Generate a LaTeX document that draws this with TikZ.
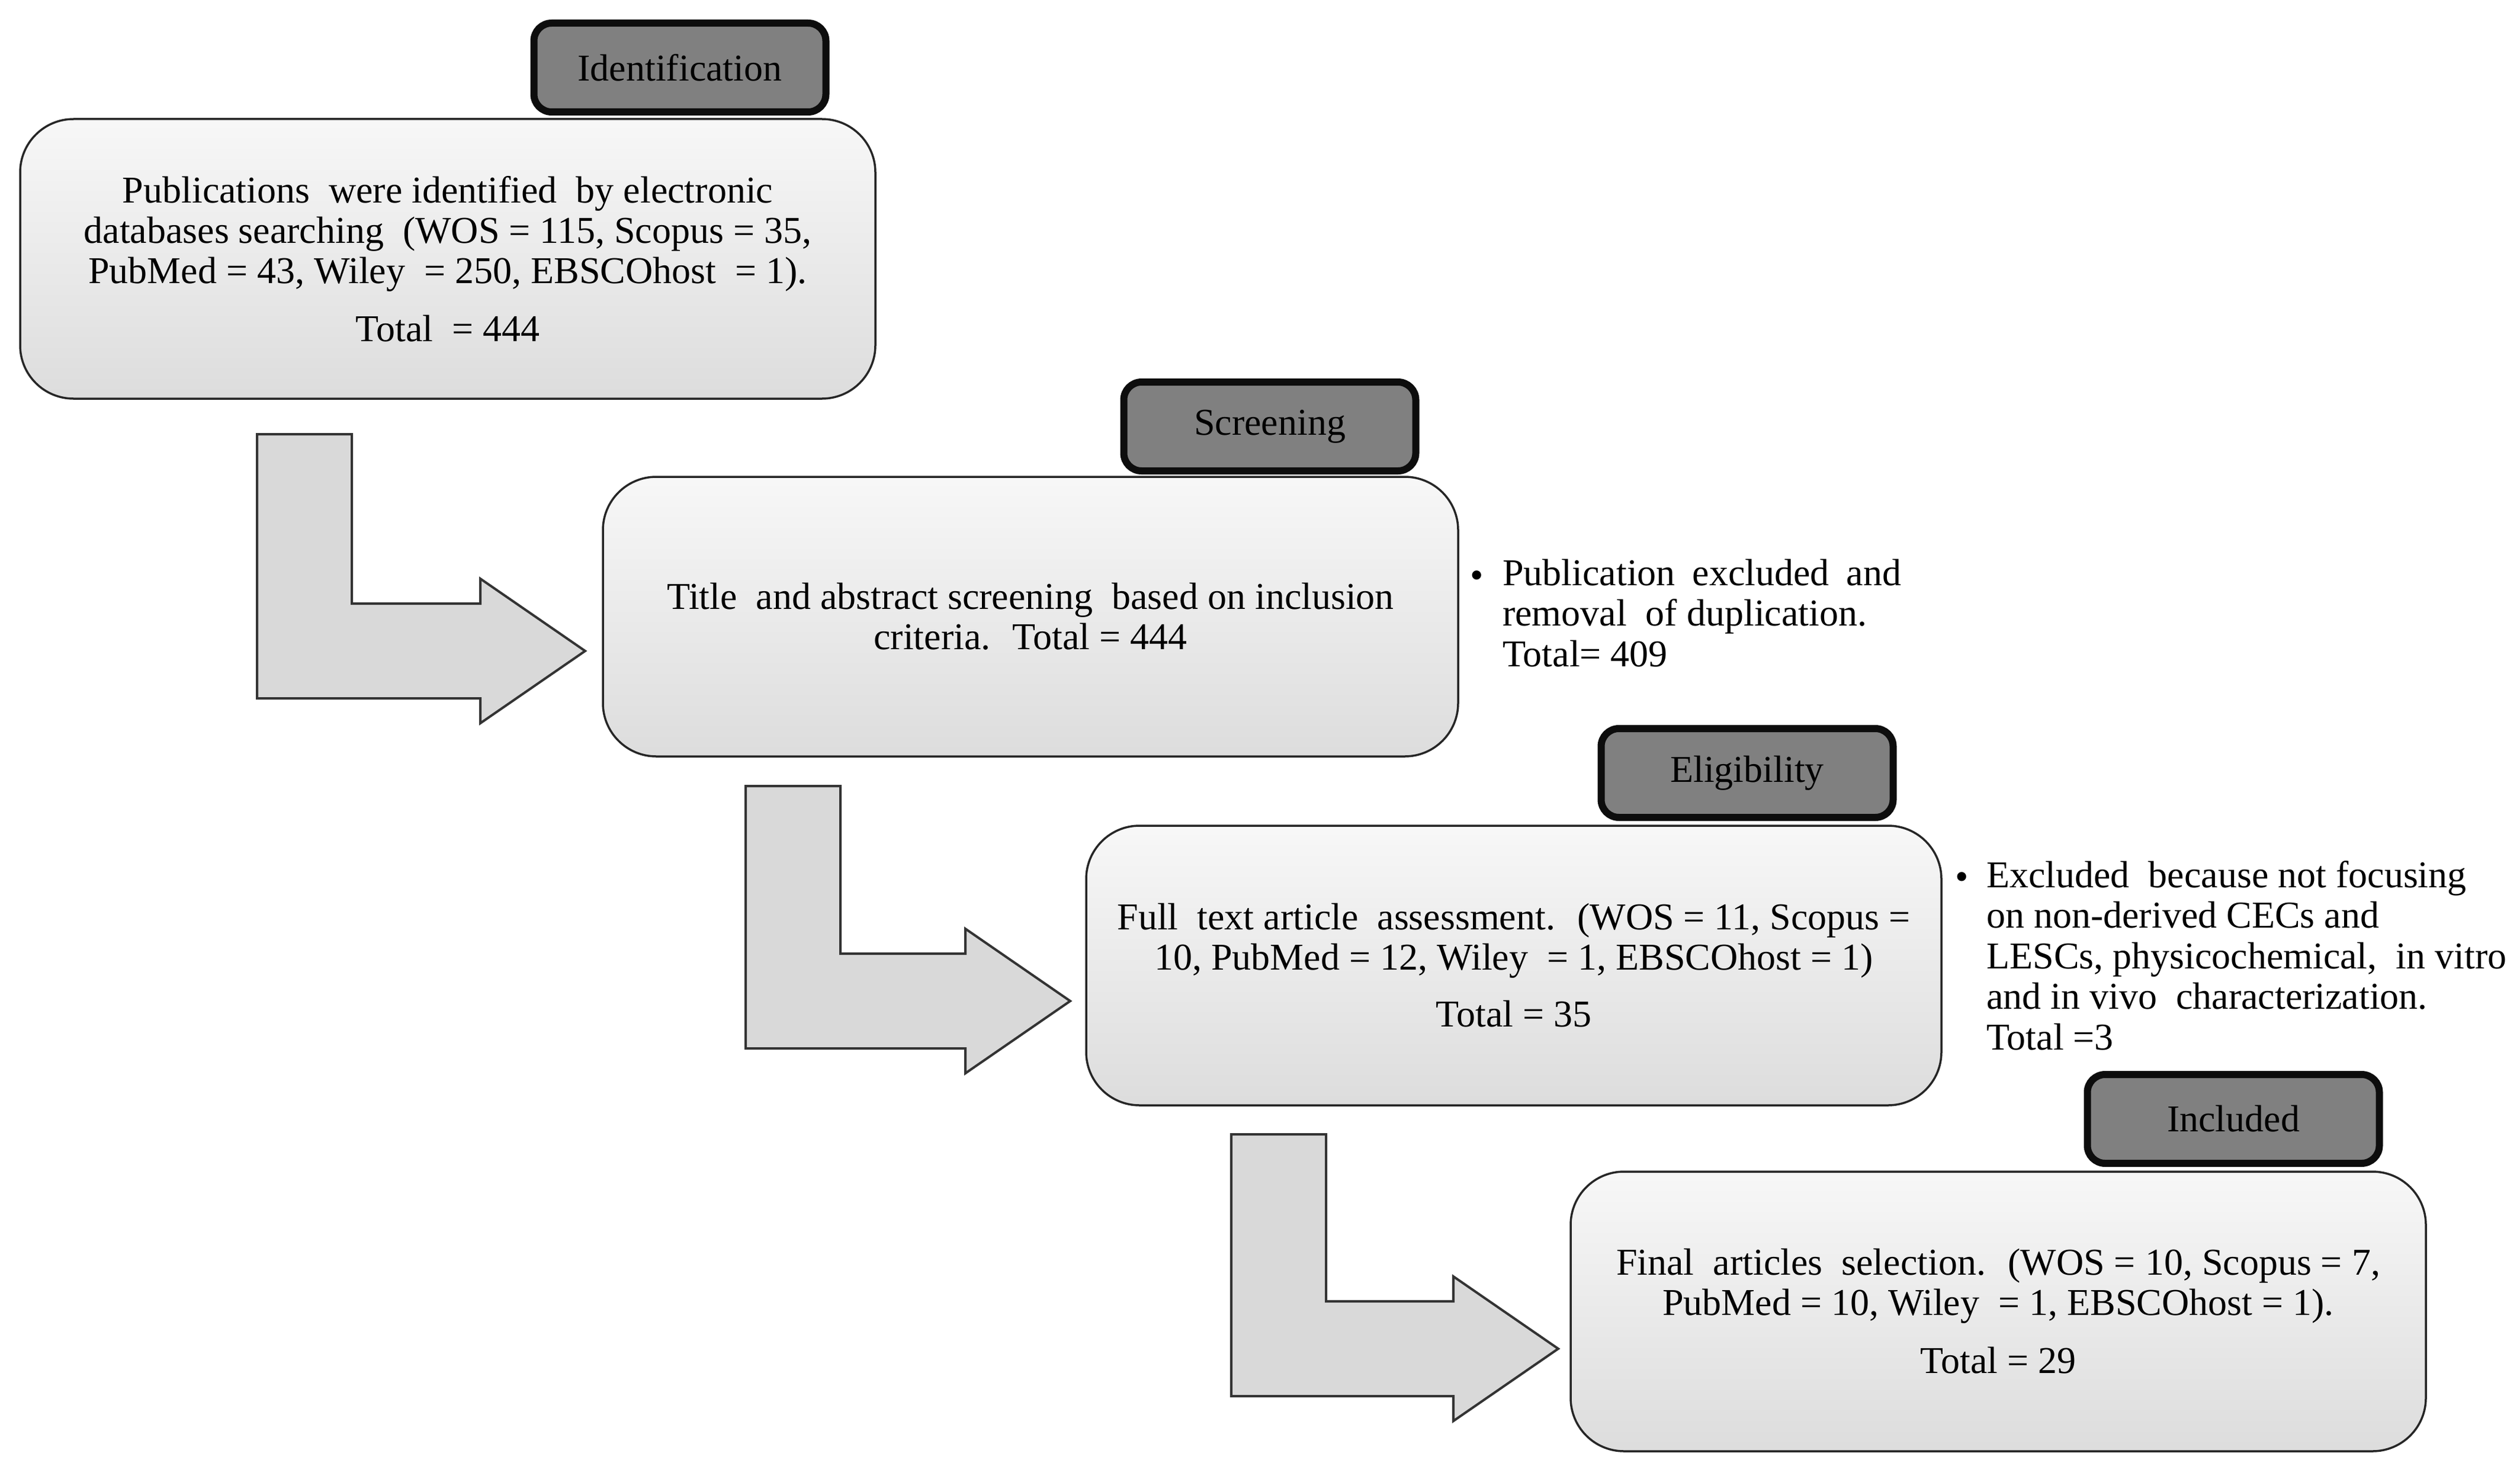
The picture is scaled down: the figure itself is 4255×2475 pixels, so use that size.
\documentclass[tikz,border=0pt]{standalone}
\usepackage{fontspec}
\setmainfont{Liberation Serif}
\usetikzlibrary{calc}
\newcommand\mainfnt{\fontsize{64}{68}\selectfont}
\newcommand\sidefnt{\fontsize{64}{68.5}\selectfont}
\tikzset{
  mainbox/.style={draw=black!85, line width=3.5pt, rounded corners=90pt,
    top color=gray!6, bottom color=gray!27, align=center, inner sep=0pt,
    minimum width=1444pt, minimum height=472pt, font=\mainfnt},
  tagbox/.style={draw=black!95, line width=12pt, rounded corners=30pt,
    fill=gray, inner sep=0pt, minimum width=493pt, minimum height=150pt, font=\mainfnt},
  blockarrow/.style={draw=black!80, line width=4pt, fill=black!15, line join=miter},
  sidetext/.style={align=left, anchor=west, inner sep=0pt, font=\sidefnt},
  bulletnode/.style={inner sep=0pt, font=\mainfnt}
}
\newcommand\bentarrow[4]{%
  \draw[blockarrow] (#1,#2) -- ({#1+160},#2) -- ({#1+160},{#3-80})
    -- ({#4-177},{#3-80}) -- ({#4-177},{#3-122}) -- (#4,#3)
    -- ({#4-177},{#3+122}) -- ({#4-177},{#3+80}) -- (#1,{#3+80}) -- cycle;}
\begin{document}
\begin{tikzpicture}[x=1pt,y=-1pt]
\fill[white] (0,0) rectangle (4255,2475);
\useasboundingbox (0,0) rectangle (4255,2475);

% main boxes
\node[mainbox] (b1) at (756,437) {Publications~ were identified~ by electronic\\databases searching~ (WOS = 115, Scopus = 35,\\PubMed = 43, Wiley~ = 250, EBSCOhost~ = 1).\\[30pt]Total~ = 444};
\node[mainbox] (b2) at (1740,1041) {Title~ and abstract screening~ based on inclusion\\criteria.~ Total = 444};
\node[mainbox] (b3) at (2556,1630) {Full~ text article~ assessment.~ (WOS = 11, Scopus =\\10, PubMed = 12, Wiley~ = 1, EBSCOhost = 1)\\[28pt]Total = 35};
\node[mainbox] (b4) at (3374,2214) {Final~ articles~ selection.~ (WOS = 10, Scopus = 7,\\PubMed = 10, Wiley~ = 1, EBSCOhost = 1).\\[30pt]Total = 29};

% stage tags
\node[tagbox] (t1) at (1148,114) {Identification};
\node[tagbox] (t2) at (2144,720) {Screening};
\node[tagbox] (t3) at (2950,1305) {Eligibility};
\node[tagbox] (t4) at (3771,1889) {Included};

% bent block arrows
\bentarrow{434}{733}{1099}{988}
\bentarrow{1259}{1327}{1690}{1807}
\bentarrow{2079}{1915}{2277}{2631}

% side notes
\node[bulletnode] (u1) at (2494,978) {\textbullet};
\node[sidetext] (s1) at (2537,1035) {\makebox[673pt][s]{Publication excluded and}\\removal~ of duplication.\\Total= 409};
\node[bulletnode] (u2) at (3313,1487) {\textbullet};
\node[sidetext] (s2) at (3354,1613) {Excluded~ because not focusing\\on non-derived CECs and\\LESCs, physicochemical,~ in vitro\\and in vivo~ characterization.\\Total =3};
\end{tikzpicture}
\end{document}
